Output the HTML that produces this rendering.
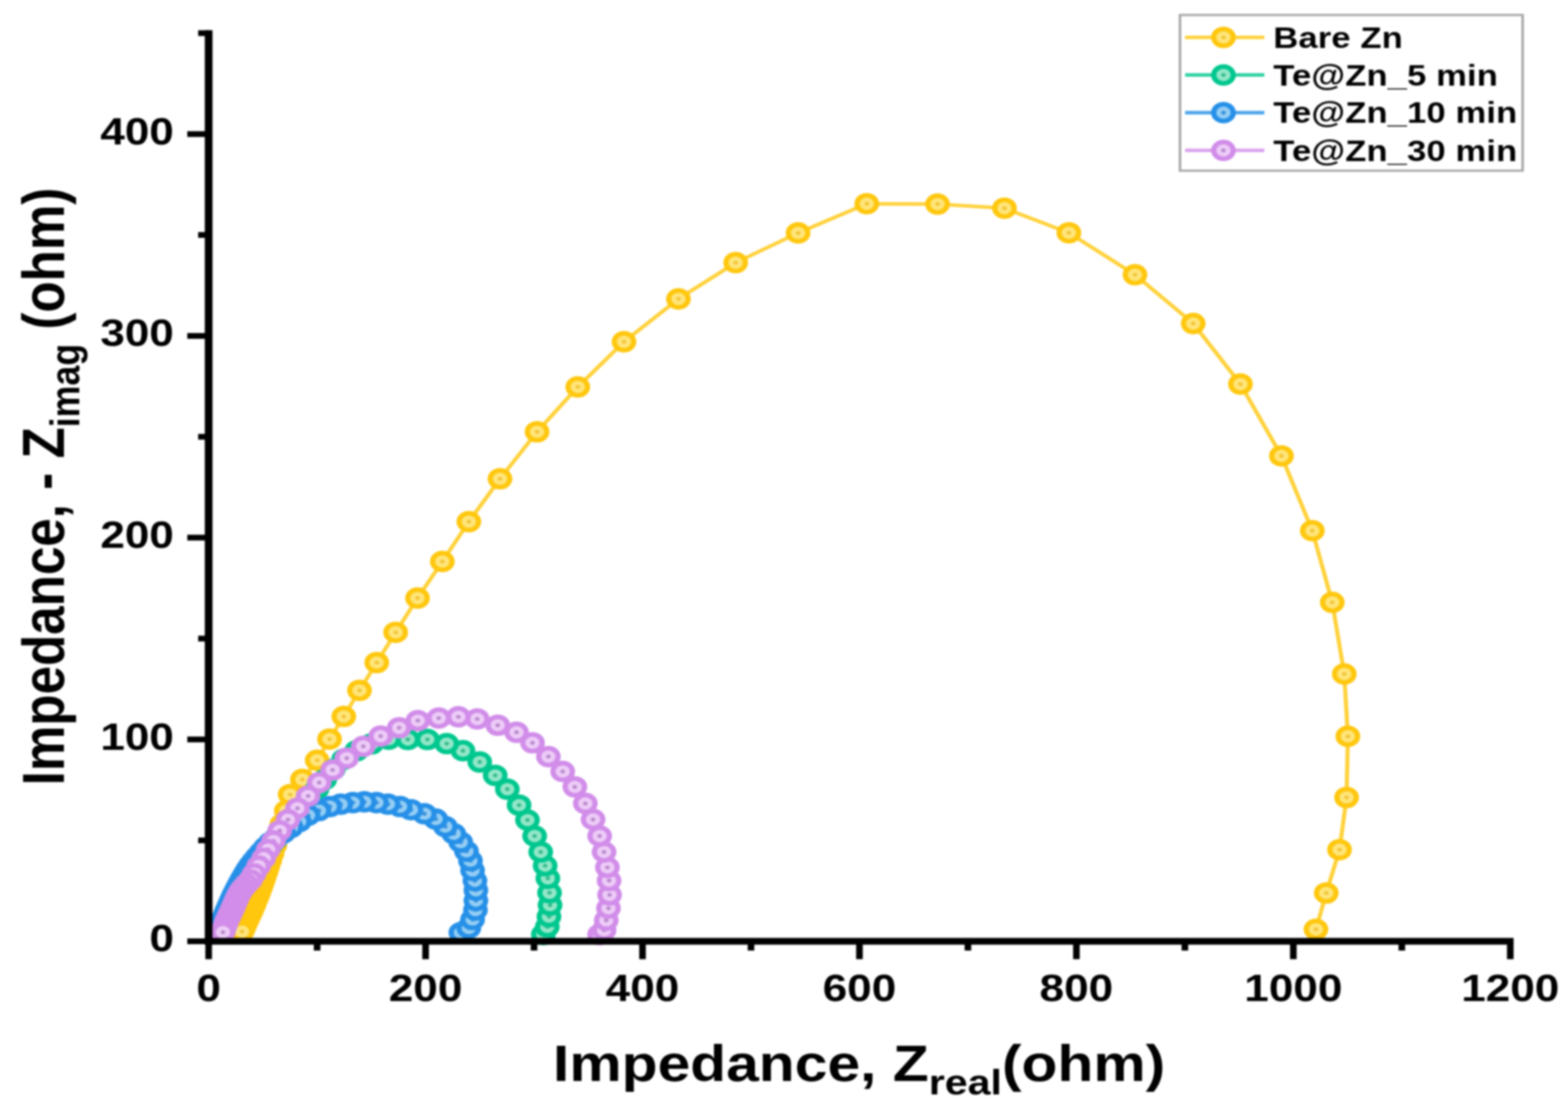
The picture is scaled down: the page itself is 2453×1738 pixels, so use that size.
<!DOCTYPE html>
<html><head><meta charset="utf-8"><title>Nyquist plot</title>
<style>html,body{margin:0;padding:0;background:#fff;overflow:hidden;width:2453px;height:1738px}</style>
</head><body>
<svg xmlns="http://www.w3.org/2000/svg" width="2453" height="1738" viewBox="0 0 2133.04 1738" preserveAspectRatio="none" style="display:block;filter:blur(1.4px)"><rect x="0" y="0" width="2133.04" height="1738" fill="#fff"/>
<path d="M1790.17 1453.8 L1804.17 1397 L1822.26 1329.2 L1831.83 1247.5 L1833.57 1151.9 L1828.7 1054.4 L1812.35 942.3 L1785.22 830.2 L1743.22 713.2 L1687.48 600.9 L1623.22 506.1 L1544 429.8 L1454.09 364.2 L1366.43 325.7 L1275.39 319.3 L1179.13 318.7 L1085.65 364.4 L1000.78 410.9 L922.96 467.6 L848.87 534.6 L786 605.3 L730.61 675.5 L680.17 749 L637.83 816.1 L601.74 878.4 L568 935.6 L538.26 989.2 L512.52 1036.5 L489.04 1080 L467.65 1120.8 L448.26 1156.2 L431.48 1189.3 L411.39 1219.4 L394.7 1243 L389.49 1268.3 L383.46 1289.28 L378.24 1307.08 L373.85 1322.22 L370.13 1335.11 L366.97 1346.06 L364.26 1355.35 L361.93 1363.24 L359.94 1369.95 L358.24 1375.64 L356.77 1380.48 L355.51 1384.58 L354.42 1388.06 L353.48 1391.01 L352.56 1393.82 L351.64 1396.62 L350.7 1399.42 L349.75 1402.22 L348.8 1405.01 L347.83 1407.8 L346.86 1410.58 L345.87 1413.36 L344.88 1416.13 L343.88 1418.9 L342.86 1421.67 L341.83 1424.42 L340.78 1427.17 L339.71 1429.9 L338.63 1432.63 L337.54 1435.36 L336.46 1438.09 L335.38 1440.82 L334.32 1443.56 L333.29 1446.32 L332.26 1449.07 L331.24 1451.84 L330.23 1454.6 L329.22 1457.37" fill="none" stroke="#FFD139" stroke-width="5.6" stroke-linejoin="round"/>
<circle cx="1790.17" cy="1453.8" r="13.2" fill="#FFE57A" stroke="#FFC70E" stroke-width="7.2"/><circle cx="1790.17" cy="1453.8" r="3.0" fill="#F2C43A"/><circle cx="1804.17" cy="1397" r="13.2" fill="#FFE57A" stroke="#FFC70E" stroke-width="7.2"/><circle cx="1804.17" cy="1397" r="3.0" fill="#F2C43A"/><circle cx="1822.26" cy="1329.2" r="13.2" fill="#FFE57A" stroke="#FFC70E" stroke-width="7.2"/><circle cx="1822.26" cy="1329.2" r="3.0" fill="#F2C43A"/><circle cx="1831.83" cy="1247.5" r="13.2" fill="#FFE57A" stroke="#FFC70E" stroke-width="7.2"/><circle cx="1831.83" cy="1247.5" r="3.0" fill="#F2C43A"/><circle cx="1833.57" cy="1151.9" r="13.2" fill="#FFE57A" stroke="#FFC70E" stroke-width="7.2"/><circle cx="1833.57" cy="1151.9" r="3.0" fill="#F2C43A"/><circle cx="1828.7" cy="1054.4" r="13.2" fill="#FFE57A" stroke="#FFC70E" stroke-width="7.2"/><circle cx="1828.7" cy="1054.4" r="3.0" fill="#F2C43A"/><circle cx="1812.35" cy="942.3" r="13.2" fill="#FFE57A" stroke="#FFC70E" stroke-width="7.2"/><circle cx="1812.35" cy="942.3" r="3.0" fill="#F2C43A"/><circle cx="1785.22" cy="830.2" r="13.2" fill="#FFE57A" stroke="#FFC70E" stroke-width="7.2"/><circle cx="1785.22" cy="830.2" r="3.0" fill="#F2C43A"/><circle cx="1743.22" cy="713.2" r="13.2" fill="#FFE57A" stroke="#FFC70E" stroke-width="7.2"/><circle cx="1743.22" cy="713.2" r="3.0" fill="#F2C43A"/><circle cx="1687.48" cy="600.9" r="13.2" fill="#FFE57A" stroke="#FFC70E" stroke-width="7.2"/><circle cx="1687.48" cy="600.9" r="3.0" fill="#F2C43A"/><circle cx="1623.22" cy="506.1" r="13.2" fill="#FFE57A" stroke="#FFC70E" stroke-width="7.2"/><circle cx="1623.22" cy="506.1" r="3.0" fill="#F2C43A"/><circle cx="1544" cy="429.8" r="13.2" fill="#FFE57A" stroke="#FFC70E" stroke-width="7.2"/><circle cx="1544" cy="429.8" r="3.0" fill="#F2C43A"/><circle cx="1454.09" cy="364.2" r="13.2" fill="#FFE57A" stroke="#FFC70E" stroke-width="7.2"/><circle cx="1454.09" cy="364.2" r="3.0" fill="#F2C43A"/><circle cx="1366.43" cy="325.7" r="13.2" fill="#FFE57A" stroke="#FFC70E" stroke-width="7.2"/><circle cx="1366.43" cy="325.7" r="3.0" fill="#F2C43A"/><circle cx="1275.39" cy="319.3" r="13.2" fill="#FFE57A" stroke="#FFC70E" stroke-width="7.2"/><circle cx="1275.39" cy="319.3" r="3.0" fill="#F2C43A"/><circle cx="1179.13" cy="318.7" r="13.2" fill="#FFE57A" stroke="#FFC70E" stroke-width="7.2"/><circle cx="1179.13" cy="318.7" r="3.0" fill="#F2C43A"/><circle cx="1085.65" cy="364.4" r="13.2" fill="#FFE57A" stroke="#FFC70E" stroke-width="7.2"/><circle cx="1085.65" cy="364.4" r="3.0" fill="#F2C43A"/><circle cx="1000.78" cy="410.9" r="13.2" fill="#FFE57A" stroke="#FFC70E" stroke-width="7.2"/><circle cx="1000.78" cy="410.9" r="3.0" fill="#F2C43A"/><circle cx="922.96" cy="467.6" r="13.2" fill="#FFE57A" stroke="#FFC70E" stroke-width="7.2"/><circle cx="922.96" cy="467.6" r="3.0" fill="#F2C43A"/><circle cx="848.87" cy="534.6" r="13.2" fill="#FFE57A" stroke="#FFC70E" stroke-width="7.2"/><circle cx="848.87" cy="534.6" r="3.0" fill="#F2C43A"/><circle cx="786" cy="605.3" r="13.2" fill="#FFE57A" stroke="#FFC70E" stroke-width="7.2"/><circle cx="786" cy="605.3" r="3.0" fill="#F2C43A"/><circle cx="730.61" cy="675.5" r="13.2" fill="#FFE57A" stroke="#FFC70E" stroke-width="7.2"/><circle cx="730.61" cy="675.5" r="3.0" fill="#F2C43A"/><circle cx="680.17" cy="749" r="13.2" fill="#FFE57A" stroke="#FFC70E" stroke-width="7.2"/><circle cx="680.17" cy="749" r="3.0" fill="#F2C43A"/><circle cx="637.83" cy="816.1" r="13.2" fill="#FFE57A" stroke="#FFC70E" stroke-width="7.2"/><circle cx="637.83" cy="816.1" r="3.0" fill="#F2C43A"/><circle cx="601.74" cy="878.4" r="13.2" fill="#FFE57A" stroke="#FFC70E" stroke-width="7.2"/><circle cx="601.74" cy="878.4" r="3.0" fill="#F2C43A"/><circle cx="568" cy="935.6" r="13.2" fill="#FFE57A" stroke="#FFC70E" stroke-width="7.2"/><circle cx="568" cy="935.6" r="3.0" fill="#F2C43A"/><circle cx="538.26" cy="989.2" r="13.2" fill="#FFE57A" stroke="#FFC70E" stroke-width="7.2"/><circle cx="538.26" cy="989.2" r="3.0" fill="#F2C43A"/><circle cx="512.52" cy="1036.5" r="13.2" fill="#FFE57A" stroke="#FFC70E" stroke-width="7.2"/><circle cx="512.52" cy="1036.5" r="3.0" fill="#F2C43A"/><circle cx="489.04" cy="1080" r="13.2" fill="#FFE57A" stroke="#FFC70E" stroke-width="7.2"/><circle cx="489.04" cy="1080" r="3.0" fill="#F2C43A"/><circle cx="467.65" cy="1120.8" r="13.2" fill="#FFE57A" stroke="#FFC70E" stroke-width="7.2"/><circle cx="467.65" cy="1120.8" r="3.0" fill="#F2C43A"/><circle cx="448.26" cy="1156.2" r="13.2" fill="#FFE57A" stroke="#FFC70E" stroke-width="7.2"/><circle cx="448.26" cy="1156.2" r="3.0" fill="#F2C43A"/><circle cx="431.48" cy="1189.3" r="13.2" fill="#FFE57A" stroke="#FFC70E" stroke-width="7.2"/><circle cx="431.48" cy="1189.3" r="3.0" fill="#F2C43A"/><circle cx="411.39" cy="1219.4" r="13.2" fill="#FFE57A" stroke="#FFC70E" stroke-width="7.2"/><circle cx="411.39" cy="1219.4" r="3.0" fill="#F2C43A"/><circle cx="394.7" cy="1243" r="13.2" fill="#FFE57A" stroke="#FFC70E" stroke-width="7.2"/><circle cx="394.7" cy="1243" r="3.0" fill="#F2C43A"/><circle cx="389.49" cy="1268.3" r="13.2" fill="#FFE57A" stroke="#FFC70E" stroke-width="7.2"/><circle cx="389.49" cy="1268.3" r="3.0" fill="#F2C43A"/><circle cx="383.46" cy="1289.28" r="13.2" fill="#FFE57A" stroke="#FFC70E" stroke-width="7.2"/><circle cx="383.46" cy="1289.28" r="3.0" fill="#F2C43A"/><circle cx="378.24" cy="1307.08" r="13.2" fill="#FFE57A" stroke="#FFC70E" stroke-width="7.2"/><circle cx="378.24" cy="1307.08" r="3.0" fill="#F2C43A"/><circle cx="373.85" cy="1322.22" r="13.2" fill="#FFE57A" stroke="#FFC70E" stroke-width="7.2"/><circle cx="373.85" cy="1322.22" r="3.0" fill="#F2C43A"/><circle cx="370.13" cy="1335.11" r="13.2" fill="#FFE57A" stroke="#FFC70E" stroke-width="7.2"/><circle cx="370.13" cy="1335.11" r="3.0" fill="#F2C43A"/><circle cx="366.97" cy="1346.06" r="13.2" fill="#FFE57A" stroke="#FFC70E" stroke-width="7.2"/><circle cx="366.97" cy="1346.06" r="3.0" fill="#F2C43A"/><circle cx="364.26" cy="1355.35" r="13.2" fill="#FFE57A" stroke="#FFC70E" stroke-width="7.2"/><circle cx="364.26" cy="1355.35" r="3.0" fill="#F2C43A"/><circle cx="361.93" cy="1363.24" r="13.2" fill="#FFE57A" stroke="#FFC70E" stroke-width="7.2"/><circle cx="361.93" cy="1363.24" r="3.0" fill="#F2C43A"/><circle cx="359.94" cy="1369.95" r="13.2" fill="#FFE57A" stroke="#FFC70E" stroke-width="7.2"/><circle cx="359.94" cy="1369.95" r="3.0" fill="#F2C43A"/><circle cx="358.24" cy="1375.64" r="13.2" fill="#FFE57A" stroke="#FFC70E" stroke-width="7.2"/><circle cx="358.24" cy="1375.64" r="3.0" fill="#F2C43A"/><circle cx="356.77" cy="1380.48" r="13.2" fill="#FFE57A" stroke="#FFC70E" stroke-width="7.2"/><circle cx="356.77" cy="1380.48" r="3.0" fill="#F2C43A"/><circle cx="355.51" cy="1384.58" r="13.2" fill="#FFE57A" stroke="#FFC70E" stroke-width="7.2"/><circle cx="355.51" cy="1384.58" r="3.0" fill="#F2C43A"/><circle cx="354.42" cy="1388.06" r="13.2" fill="#FFE57A" stroke="#FFC70E" stroke-width="7.2"/><circle cx="354.42" cy="1388.06" r="3.0" fill="#F2C43A"/><circle cx="353.48" cy="1391.01" r="13.2" fill="#FFE57A" stroke="#FFC70E" stroke-width="7.2"/><circle cx="353.48" cy="1391.01" r="3.0" fill="#F2C43A"/><circle cx="352.56" cy="1393.82" r="13.2" fill="#FFE57A" stroke="#FFC70E" stroke-width="7.2"/><circle cx="352.56" cy="1393.82" r="3.0" fill="#F2C43A"/><circle cx="351.64" cy="1396.62" r="13.2" fill="#FFE57A" stroke="#FFC70E" stroke-width="7.2"/><circle cx="351.64" cy="1396.62" r="3.0" fill="#F2C43A"/><circle cx="350.7" cy="1399.42" r="13.2" fill="#FFE57A" stroke="#FFC70E" stroke-width="7.2"/><circle cx="350.7" cy="1399.42" r="3.0" fill="#F2C43A"/><circle cx="349.75" cy="1402.22" r="13.2" fill="#FFE57A" stroke="#FFC70E" stroke-width="7.2"/><circle cx="349.75" cy="1402.22" r="3.0" fill="#F2C43A"/><circle cx="348.8" cy="1405.01" r="13.2" fill="#FFE57A" stroke="#FFC70E" stroke-width="7.2"/><circle cx="348.8" cy="1405.01" r="3.0" fill="#F2C43A"/><circle cx="347.83" cy="1407.8" r="13.2" fill="#FFE57A" stroke="#FFC70E" stroke-width="7.2"/><circle cx="347.83" cy="1407.8" r="3.0" fill="#F2C43A"/><circle cx="346.86" cy="1410.58" r="13.2" fill="#FFE57A" stroke="#FFC70E" stroke-width="7.2"/><circle cx="346.86" cy="1410.58" r="3.0" fill="#F2C43A"/><circle cx="345.87" cy="1413.36" r="13.2" fill="#FFE57A" stroke="#FFC70E" stroke-width="7.2"/><circle cx="345.87" cy="1413.36" r="3.0" fill="#F2C43A"/><circle cx="344.88" cy="1416.13" r="13.2" fill="#FFE57A" stroke="#FFC70E" stroke-width="7.2"/><circle cx="344.88" cy="1416.13" r="3.0" fill="#F2C43A"/><circle cx="343.88" cy="1418.9" r="13.2" fill="#FFE57A" stroke="#FFC70E" stroke-width="7.2"/><circle cx="343.88" cy="1418.9" r="3.0" fill="#F2C43A"/><circle cx="342.86" cy="1421.67" r="13.2" fill="#FFE57A" stroke="#FFC70E" stroke-width="7.2"/><circle cx="342.86" cy="1421.67" r="3.0" fill="#F2C43A"/><circle cx="341.83" cy="1424.42" r="13.2" fill="#FFE57A" stroke="#FFC70E" stroke-width="7.2"/><circle cx="341.83" cy="1424.42" r="3.0" fill="#F2C43A"/><circle cx="340.78" cy="1427.17" r="13.2" fill="#FFE57A" stroke="#FFC70E" stroke-width="7.2"/><circle cx="340.78" cy="1427.17" r="3.0" fill="#F2C43A"/><circle cx="339.71" cy="1429.9" r="13.2" fill="#FFE57A" stroke="#FFC70E" stroke-width="7.2"/><circle cx="339.71" cy="1429.9" r="3.0" fill="#F2C43A"/><circle cx="338.63" cy="1432.63" r="13.2" fill="#FFE57A" stroke="#FFC70E" stroke-width="7.2"/><circle cx="338.63" cy="1432.63" r="3.0" fill="#F2C43A"/><circle cx="337.54" cy="1435.36" r="13.2" fill="#FFE57A" stroke="#FFC70E" stroke-width="7.2"/><circle cx="337.54" cy="1435.36" r="3.0" fill="#F2C43A"/><circle cx="336.46" cy="1438.09" r="13.2" fill="#FFE57A" stroke="#FFC70E" stroke-width="7.2"/><circle cx="336.46" cy="1438.09" r="3.0" fill="#F2C43A"/><circle cx="335.38" cy="1440.82" r="13.2" fill="#FFE57A" stroke="#FFC70E" stroke-width="7.2"/><circle cx="335.38" cy="1440.82" r="3.0" fill="#F2C43A"/><circle cx="334.32" cy="1443.56" r="13.2" fill="#FFE57A" stroke="#FFC70E" stroke-width="7.2"/><circle cx="334.32" cy="1443.56" r="3.0" fill="#F2C43A"/><circle cx="333.29" cy="1446.32" r="13.2" fill="#FFE57A" stroke="#FFC70E" stroke-width="7.2"/><circle cx="333.29" cy="1446.32" r="3.0" fill="#F2C43A"/><circle cx="332.26" cy="1449.07" r="13.2" fill="#FFE57A" stroke="#FFC70E" stroke-width="7.2"/><circle cx="332.26" cy="1449.07" r="3.0" fill="#F2C43A"/><circle cx="331.24" cy="1451.84" r="13.2" fill="#FFE57A" stroke="#FFC70E" stroke-width="7.2"/><circle cx="331.24" cy="1451.84" r="3.0" fill="#F2C43A"/><circle cx="330.23" cy="1454.6" r="13.2" fill="#FFE57A" stroke="#FFC70E" stroke-width="7.2"/><circle cx="330.23" cy="1454.6" r="3.0" fill="#F2C43A"/><circle cx="329.22" cy="1457.37" r="13.2" fill="#FFE57A" stroke="#FFC70E" stroke-width="7.2"/><circle cx="329.22" cy="1457.37" r="3.0" fill="#F2C43A"/>
<path d="M739.13 1462 L744.52 1450 L746.78 1434 L748.26 1416 L747.57 1396.6 L745.3 1374.1 L741.57 1354.3 L735.57 1332.8 L727.3 1307.8 L717.57 1282.8 L706.09 1259.5 L690.17 1234.6 L673.65 1213 L652.61 1192.1 L629.83 1174.4 L607.65 1163.3 L581.48 1156.8 L554.78 1156.8 L528.75 1156.35 L505.42 1163.76 L484.96 1174.66 L467.45 1187.9 L453.55 1203.61 L441.77 1219.48 L431.21 1234.62 L421.43 1248.74 L412.11 1261.66 L403.51 1273.74 L395.81 1285.24 L388.47 1295.78 L381.44 1305.39 L374.41 1313.83 L368.21 1322 L363.24 1330.33 L358.73 1338.16 L354.46 1345.39 L350.58 1352.18 L347.15 1358.62 L344.12 1364.72 L341.22 1370.34 L338.26 1375.38 L335.17 1379.77 L332.16 1383.73 L329.44 1387.49 L327.11 1391.16 L325.19 1394.76 L323.57 1398.22 L322.15 1401.5 L320.89 1404.57 L319.74 1407.45 L318.68 1410.18 L317.61 1412.92 L316.54 1415.66 L315.45 1418.38 L314.32 1421.09 L313.18 1423.78 L312.02 1426.47 L310.85 1429.16 L309.69 1431.84 L308.54 1434.53 L307.41 1437.24 L306.33 1439.97 L305.31 1442.73 L304.39 1445.54 L303.58 1448.39 L302.84 1451.27 L302.17 1454.16 L301.53 1457.07 L300.88 1459.98" fill="none" stroke="#2ED1A2" stroke-width="5.6" stroke-linejoin="round"/>
<circle cx="739.13" cy="1462" r="13.2" fill="#92E7C8" stroke="#00C78E" stroke-width="7.2"/><circle cx="739.13" cy="1462" r="3.0" fill="#3BB98E"/><circle cx="744.52" cy="1450" r="13.2" fill="#92E7C8" stroke="#00C78E" stroke-width="7.2"/><circle cx="744.52" cy="1450" r="3.0" fill="#3BB98E"/><circle cx="746.78" cy="1434" r="13.2" fill="#92E7C8" stroke="#00C78E" stroke-width="7.2"/><circle cx="746.78" cy="1434" r="3.0" fill="#3BB98E"/><circle cx="748.26" cy="1416" r="13.2" fill="#92E7C8" stroke="#00C78E" stroke-width="7.2"/><circle cx="748.26" cy="1416" r="3.0" fill="#3BB98E"/><circle cx="747.57" cy="1396.6" r="13.2" fill="#92E7C8" stroke="#00C78E" stroke-width="7.2"/><circle cx="747.57" cy="1396.6" r="3.0" fill="#3BB98E"/><circle cx="745.3" cy="1374.1" r="13.2" fill="#92E7C8" stroke="#00C78E" stroke-width="7.2"/><circle cx="745.3" cy="1374.1" r="3.0" fill="#3BB98E"/><circle cx="741.57" cy="1354.3" r="13.2" fill="#92E7C8" stroke="#00C78E" stroke-width="7.2"/><circle cx="741.57" cy="1354.3" r="3.0" fill="#3BB98E"/><circle cx="735.57" cy="1332.8" r="13.2" fill="#92E7C8" stroke="#00C78E" stroke-width="7.2"/><circle cx="735.57" cy="1332.8" r="3.0" fill="#3BB98E"/><circle cx="727.3" cy="1307.8" r="13.2" fill="#92E7C8" stroke="#00C78E" stroke-width="7.2"/><circle cx="727.3" cy="1307.8" r="3.0" fill="#3BB98E"/><circle cx="717.57" cy="1282.8" r="13.2" fill="#92E7C8" stroke="#00C78E" stroke-width="7.2"/><circle cx="717.57" cy="1282.8" r="3.0" fill="#3BB98E"/><circle cx="706.09" cy="1259.5" r="13.2" fill="#92E7C8" stroke="#00C78E" stroke-width="7.2"/><circle cx="706.09" cy="1259.5" r="3.0" fill="#3BB98E"/><circle cx="690.17" cy="1234.6" r="13.2" fill="#92E7C8" stroke="#00C78E" stroke-width="7.2"/><circle cx="690.17" cy="1234.6" r="3.0" fill="#3BB98E"/><circle cx="673.65" cy="1213" r="13.2" fill="#92E7C8" stroke="#00C78E" stroke-width="7.2"/><circle cx="673.65" cy="1213" r="3.0" fill="#3BB98E"/><circle cx="652.61" cy="1192.1" r="13.2" fill="#92E7C8" stroke="#00C78E" stroke-width="7.2"/><circle cx="652.61" cy="1192.1" r="3.0" fill="#3BB98E"/><circle cx="629.83" cy="1174.4" r="13.2" fill="#92E7C8" stroke="#00C78E" stroke-width="7.2"/><circle cx="629.83" cy="1174.4" r="3.0" fill="#3BB98E"/><circle cx="607.65" cy="1163.3" r="13.2" fill="#92E7C8" stroke="#00C78E" stroke-width="7.2"/><circle cx="607.65" cy="1163.3" r="3.0" fill="#3BB98E"/><circle cx="581.48" cy="1156.8" r="13.2" fill="#92E7C8" stroke="#00C78E" stroke-width="7.2"/><circle cx="581.48" cy="1156.8" r="3.0" fill="#3BB98E"/><circle cx="554.78" cy="1156.8" r="13.2" fill="#92E7C8" stroke="#00C78E" stroke-width="7.2"/><circle cx="554.78" cy="1156.8" r="3.0" fill="#3BB98E"/><circle cx="528.75" cy="1156.35" r="13.2" fill="#92E7C8" stroke="#00C78E" stroke-width="7.2"/><circle cx="528.75" cy="1156.35" r="3.0" fill="#3BB98E"/><circle cx="505.42" cy="1163.76" r="13.2" fill="#92E7C8" stroke="#00C78E" stroke-width="7.2"/><circle cx="505.42" cy="1163.76" r="3.0" fill="#3BB98E"/><circle cx="484.96" cy="1174.66" r="13.2" fill="#92E7C8" stroke="#00C78E" stroke-width="7.2"/><circle cx="484.96" cy="1174.66" r="3.0" fill="#3BB98E"/><circle cx="467.45" cy="1187.9" r="13.2" fill="#92E7C8" stroke="#00C78E" stroke-width="7.2"/><circle cx="467.45" cy="1187.9" r="3.0" fill="#3BB98E"/><circle cx="453.55" cy="1203.61" r="13.2" fill="#92E7C8" stroke="#00C78E" stroke-width="7.2"/><circle cx="453.55" cy="1203.61" r="3.0" fill="#3BB98E"/><circle cx="441.77" cy="1219.48" r="13.2" fill="#92E7C8" stroke="#00C78E" stroke-width="7.2"/><circle cx="441.77" cy="1219.48" r="3.0" fill="#3BB98E"/><circle cx="431.21" cy="1234.62" r="13.2" fill="#92E7C8" stroke="#00C78E" stroke-width="7.2"/><circle cx="431.21" cy="1234.62" r="3.0" fill="#3BB98E"/><circle cx="421.43" cy="1248.74" r="13.2" fill="#92E7C8" stroke="#00C78E" stroke-width="7.2"/><circle cx="421.43" cy="1248.74" r="3.0" fill="#3BB98E"/><circle cx="412.11" cy="1261.66" r="13.2" fill="#92E7C8" stroke="#00C78E" stroke-width="7.2"/><circle cx="412.11" cy="1261.66" r="3.0" fill="#3BB98E"/><circle cx="403.51" cy="1273.74" r="13.2" fill="#92E7C8" stroke="#00C78E" stroke-width="7.2"/><circle cx="403.51" cy="1273.74" r="3.0" fill="#3BB98E"/><circle cx="395.81" cy="1285.24" r="13.2" fill="#92E7C8" stroke="#00C78E" stroke-width="7.2"/><circle cx="395.81" cy="1285.24" r="3.0" fill="#3BB98E"/><circle cx="388.47" cy="1295.78" r="13.2" fill="#92E7C8" stroke="#00C78E" stroke-width="7.2"/><circle cx="388.47" cy="1295.78" r="3.0" fill="#3BB98E"/><circle cx="381.44" cy="1305.39" r="13.2" fill="#92E7C8" stroke="#00C78E" stroke-width="7.2"/><circle cx="381.44" cy="1305.39" r="3.0" fill="#3BB98E"/><circle cx="374.41" cy="1313.83" r="13.2" fill="#92E7C8" stroke="#00C78E" stroke-width="7.2"/><circle cx="374.41" cy="1313.83" r="3.0" fill="#3BB98E"/><circle cx="368.21" cy="1322" r="13.2" fill="#92E7C8" stroke="#00C78E" stroke-width="7.2"/><circle cx="368.21" cy="1322" r="3.0" fill="#3BB98E"/><circle cx="363.24" cy="1330.33" r="13.2" fill="#92E7C8" stroke="#00C78E" stroke-width="7.2"/><circle cx="363.24" cy="1330.33" r="3.0" fill="#3BB98E"/><circle cx="358.73" cy="1338.16" r="13.2" fill="#92E7C8" stroke="#00C78E" stroke-width="7.2"/><circle cx="358.73" cy="1338.16" r="3.0" fill="#3BB98E"/><circle cx="354.46" cy="1345.39" r="13.2" fill="#92E7C8" stroke="#00C78E" stroke-width="7.2"/><circle cx="354.46" cy="1345.39" r="3.0" fill="#3BB98E"/><circle cx="350.58" cy="1352.18" r="13.2" fill="#92E7C8" stroke="#00C78E" stroke-width="7.2"/><circle cx="350.58" cy="1352.18" r="3.0" fill="#3BB98E"/><circle cx="347.15" cy="1358.62" r="13.2" fill="#92E7C8" stroke="#00C78E" stroke-width="7.2"/><circle cx="347.15" cy="1358.62" r="3.0" fill="#3BB98E"/><circle cx="344.12" cy="1364.72" r="13.2" fill="#92E7C8" stroke="#00C78E" stroke-width="7.2"/><circle cx="344.12" cy="1364.72" r="3.0" fill="#3BB98E"/><circle cx="341.22" cy="1370.34" r="13.2" fill="#92E7C8" stroke="#00C78E" stroke-width="7.2"/><circle cx="341.22" cy="1370.34" r="3.0" fill="#3BB98E"/><circle cx="338.26" cy="1375.38" r="13.2" fill="#92E7C8" stroke="#00C78E" stroke-width="7.2"/><circle cx="338.26" cy="1375.38" r="3.0" fill="#3BB98E"/><circle cx="335.17" cy="1379.77" r="13.2" fill="#92E7C8" stroke="#00C78E" stroke-width="7.2"/><circle cx="335.17" cy="1379.77" r="3.0" fill="#3BB98E"/><circle cx="332.16" cy="1383.73" r="13.2" fill="#92E7C8" stroke="#00C78E" stroke-width="7.2"/><circle cx="332.16" cy="1383.73" r="3.0" fill="#3BB98E"/><circle cx="329.44" cy="1387.49" r="13.2" fill="#92E7C8" stroke="#00C78E" stroke-width="7.2"/><circle cx="329.44" cy="1387.49" r="3.0" fill="#3BB98E"/><circle cx="327.11" cy="1391.16" r="13.2" fill="#92E7C8" stroke="#00C78E" stroke-width="7.2"/><circle cx="327.11" cy="1391.16" r="3.0" fill="#3BB98E"/><circle cx="325.19" cy="1394.76" r="13.2" fill="#92E7C8" stroke="#00C78E" stroke-width="7.2"/><circle cx="325.19" cy="1394.76" r="3.0" fill="#3BB98E"/><circle cx="323.57" cy="1398.22" r="13.2" fill="#92E7C8" stroke="#00C78E" stroke-width="7.2"/><circle cx="323.57" cy="1398.22" r="3.0" fill="#3BB98E"/><circle cx="322.15" cy="1401.5" r="13.2" fill="#92E7C8" stroke="#00C78E" stroke-width="7.2"/><circle cx="322.15" cy="1401.5" r="3.0" fill="#3BB98E"/><circle cx="320.89" cy="1404.57" r="13.2" fill="#92E7C8" stroke="#00C78E" stroke-width="7.2"/><circle cx="320.89" cy="1404.57" r="3.0" fill="#3BB98E"/><circle cx="319.74" cy="1407.45" r="13.2" fill="#92E7C8" stroke="#00C78E" stroke-width="7.2"/><circle cx="319.74" cy="1407.45" r="3.0" fill="#3BB98E"/><circle cx="318.68" cy="1410.18" r="13.2" fill="#92E7C8" stroke="#00C78E" stroke-width="7.2"/><circle cx="318.68" cy="1410.18" r="3.0" fill="#3BB98E"/><circle cx="317.61" cy="1412.92" r="13.2" fill="#92E7C8" stroke="#00C78E" stroke-width="7.2"/><circle cx="317.61" cy="1412.92" r="3.0" fill="#3BB98E"/><circle cx="316.54" cy="1415.66" r="13.2" fill="#92E7C8" stroke="#00C78E" stroke-width="7.2"/><circle cx="316.54" cy="1415.66" r="3.0" fill="#3BB98E"/><circle cx="315.45" cy="1418.38" r="13.2" fill="#92E7C8" stroke="#00C78E" stroke-width="7.2"/><circle cx="315.45" cy="1418.38" r="3.0" fill="#3BB98E"/><circle cx="314.32" cy="1421.09" r="13.2" fill="#92E7C8" stroke="#00C78E" stroke-width="7.2"/><circle cx="314.32" cy="1421.09" r="3.0" fill="#3BB98E"/><circle cx="313.18" cy="1423.78" r="13.2" fill="#92E7C8" stroke="#00C78E" stroke-width="7.2"/><circle cx="313.18" cy="1423.78" r="3.0" fill="#3BB98E"/><circle cx="312.02" cy="1426.47" r="13.2" fill="#92E7C8" stroke="#00C78E" stroke-width="7.2"/><circle cx="312.02" cy="1426.47" r="3.0" fill="#3BB98E"/><circle cx="310.85" cy="1429.16" r="13.2" fill="#92E7C8" stroke="#00C78E" stroke-width="7.2"/><circle cx="310.85" cy="1429.16" r="3.0" fill="#3BB98E"/><circle cx="309.69" cy="1431.84" r="13.2" fill="#92E7C8" stroke="#00C78E" stroke-width="7.2"/><circle cx="309.69" cy="1431.84" r="3.0" fill="#3BB98E"/><circle cx="308.54" cy="1434.53" r="13.2" fill="#92E7C8" stroke="#00C78E" stroke-width="7.2"/><circle cx="308.54" cy="1434.53" r="3.0" fill="#3BB98E"/><circle cx="307.41" cy="1437.24" r="13.2" fill="#92E7C8" stroke="#00C78E" stroke-width="7.2"/><circle cx="307.41" cy="1437.24" r="3.0" fill="#3BB98E"/><circle cx="306.33" cy="1439.97" r="13.2" fill="#92E7C8" stroke="#00C78E" stroke-width="7.2"/><circle cx="306.33" cy="1439.97" r="3.0" fill="#3BB98E"/><circle cx="305.31" cy="1442.73" r="13.2" fill="#92E7C8" stroke="#00C78E" stroke-width="7.2"/><circle cx="305.31" cy="1442.73" r="3.0" fill="#3BB98E"/><circle cx="304.39" cy="1445.54" r="13.2" fill="#92E7C8" stroke="#00C78E" stroke-width="7.2"/><circle cx="304.39" cy="1445.54" r="3.0" fill="#3BB98E"/><circle cx="303.58" cy="1448.39" r="13.2" fill="#92E7C8" stroke="#00C78E" stroke-width="7.2"/><circle cx="303.58" cy="1448.39" r="3.0" fill="#3BB98E"/><circle cx="302.84" cy="1451.27" r="13.2" fill="#92E7C8" stroke="#00C78E" stroke-width="7.2"/><circle cx="302.84" cy="1451.27" r="3.0" fill="#3BB98E"/><circle cx="302.17" cy="1454.16" r="13.2" fill="#92E7C8" stroke="#00C78E" stroke-width="7.2"/><circle cx="302.17" cy="1454.16" r="3.0" fill="#3BB98E"/><circle cx="301.53" cy="1457.07" r="13.2" fill="#92E7C8" stroke="#00C78E" stroke-width="7.2"/><circle cx="301.53" cy="1457.07" r="3.0" fill="#3BB98E"/><circle cx="300.88" cy="1459.98" r="13.2" fill="#92E7C8" stroke="#00C78E" stroke-width="7.2"/><circle cx="300.88" cy="1459.98" r="3.0" fill="#3BB98E"/>
<path d="M626.96 1459 L637.74 1451.7 L642.87 1438.4 L646.78 1423.6 L647.39 1408.8 L647.39 1392.6 L646.09 1377.8 L642.87 1361.6 L640 1346.5 L634.61 1331.7 L626.78 1317.5 L617.39 1304.3 L605.74 1293 L592.78 1281.3 L577.39 1273 L559.13 1266.7 L544.35 1261.8 L527.83 1258 L512.17 1255.6 L495.65 1254.4 L480 1255.6 L463.48 1258 L448.7 1261.8 L433.91 1268 L419.13 1275.4 L407.12 1285.31 L396 1294.31 L385.75 1302.56 L376.32 1310.16 L368.01 1317.7 L361.14 1325.63 L355.24 1333.39 L349.87 1340.59 L345.05 1347.32 L340.83 1353.72 L337.23 1359.83 L334.14 1365.62 L331.42 1371.04 L329 1376.07 L326.82 1380.73 L324.85 1385.03 L323.06 1389.01 L321.42 1392.67 L319.96 1396.07 L318.63 1399.2 L317.44 1402.1 L316.33 1404.82 L315.25 1407.55 L314.17 1410.28 L313.11 1413.02 L312.05 1415.76 L311 1418.51 L309.96 1421.26 L308.94 1424.02 L307.95 1426.8 L306.97 1429.58 L306.01 1432.37 L305.06 1435.16 L304.11 1437.96 L303.18 1440.76 L302.23 1443.55 L301.28 1446.35 L300.33 1449.14 L299.39 1451.94 L298.47 1454.74 L297.54 1457.55" fill="none" stroke="#4DA4EC" stroke-width="5.6" stroke-linejoin="round"/>
<circle cx="626.96" cy="1459" r="13.2" fill="#93CDF4" stroke="#2690E8" stroke-width="7.2"/><circle cx="626.96" cy="1459" r="3.0" fill="#3A8ED8"/><circle cx="637.74" cy="1451.7" r="13.2" fill="#93CDF4" stroke="#2690E8" stroke-width="7.2"/><circle cx="637.74" cy="1451.7" r="3.0" fill="#3A8ED8"/><circle cx="642.87" cy="1438.4" r="13.2" fill="#93CDF4" stroke="#2690E8" stroke-width="7.2"/><circle cx="642.87" cy="1438.4" r="3.0" fill="#3A8ED8"/><circle cx="646.78" cy="1423.6" r="13.2" fill="#93CDF4" stroke="#2690E8" stroke-width="7.2"/><circle cx="646.78" cy="1423.6" r="3.0" fill="#3A8ED8"/><circle cx="647.39" cy="1408.8" r="13.2" fill="#93CDF4" stroke="#2690E8" stroke-width="7.2"/><circle cx="647.39" cy="1408.8" r="3.0" fill="#3A8ED8"/><circle cx="647.39" cy="1392.6" r="13.2" fill="#93CDF4" stroke="#2690E8" stroke-width="7.2"/><circle cx="647.39" cy="1392.6" r="3.0" fill="#3A8ED8"/><circle cx="646.09" cy="1377.8" r="13.2" fill="#93CDF4" stroke="#2690E8" stroke-width="7.2"/><circle cx="646.09" cy="1377.8" r="3.0" fill="#3A8ED8"/><circle cx="642.87" cy="1361.6" r="13.2" fill="#93CDF4" stroke="#2690E8" stroke-width="7.2"/><circle cx="642.87" cy="1361.6" r="3.0" fill="#3A8ED8"/><circle cx="640" cy="1346.5" r="13.2" fill="#93CDF4" stroke="#2690E8" stroke-width="7.2"/><circle cx="640" cy="1346.5" r="3.0" fill="#3A8ED8"/><circle cx="634.61" cy="1331.7" r="13.2" fill="#93CDF4" stroke="#2690E8" stroke-width="7.2"/><circle cx="634.61" cy="1331.7" r="3.0" fill="#3A8ED8"/><circle cx="626.78" cy="1317.5" r="13.2" fill="#93CDF4" stroke="#2690E8" stroke-width="7.2"/><circle cx="626.78" cy="1317.5" r="3.0" fill="#3A8ED8"/><circle cx="617.39" cy="1304.3" r="13.2" fill="#93CDF4" stroke="#2690E8" stroke-width="7.2"/><circle cx="617.39" cy="1304.3" r="3.0" fill="#3A8ED8"/><circle cx="605.74" cy="1293" r="13.2" fill="#93CDF4" stroke="#2690E8" stroke-width="7.2"/><circle cx="605.74" cy="1293" r="3.0" fill="#3A8ED8"/><circle cx="592.78" cy="1281.3" r="13.2" fill="#93CDF4" stroke="#2690E8" stroke-width="7.2"/><circle cx="592.78" cy="1281.3" r="3.0" fill="#3A8ED8"/><circle cx="577.39" cy="1273" r="13.2" fill="#93CDF4" stroke="#2690E8" stroke-width="7.2"/><circle cx="577.39" cy="1273" r="3.0" fill="#3A8ED8"/><circle cx="559.13" cy="1266.7" r="13.2" fill="#93CDF4" stroke="#2690E8" stroke-width="7.2"/><circle cx="559.13" cy="1266.7" r="3.0" fill="#3A8ED8"/><circle cx="544.35" cy="1261.8" r="13.2" fill="#93CDF4" stroke="#2690E8" stroke-width="7.2"/><circle cx="544.35" cy="1261.8" r="3.0" fill="#3A8ED8"/><circle cx="527.83" cy="1258" r="13.2" fill="#93CDF4" stroke="#2690E8" stroke-width="7.2"/><circle cx="527.83" cy="1258" r="3.0" fill="#3A8ED8"/><circle cx="512.17" cy="1255.6" r="13.2" fill="#93CDF4" stroke="#2690E8" stroke-width="7.2"/><circle cx="512.17" cy="1255.6" r="3.0" fill="#3A8ED8"/><circle cx="495.65" cy="1254.4" r="13.2" fill="#93CDF4" stroke="#2690E8" stroke-width="7.2"/><circle cx="495.65" cy="1254.4" r="3.0" fill="#3A8ED8"/><circle cx="480" cy="1255.6" r="13.2" fill="#93CDF4" stroke="#2690E8" stroke-width="7.2"/><circle cx="480" cy="1255.6" r="3.0" fill="#3A8ED8"/><circle cx="463.48" cy="1258" r="13.2" fill="#93CDF4" stroke="#2690E8" stroke-width="7.2"/><circle cx="463.48" cy="1258" r="3.0" fill="#3A8ED8"/><circle cx="448.7" cy="1261.8" r="13.2" fill="#93CDF4" stroke="#2690E8" stroke-width="7.2"/><circle cx="448.7" cy="1261.8" r="3.0" fill="#3A8ED8"/><circle cx="433.91" cy="1268" r="13.2" fill="#93CDF4" stroke="#2690E8" stroke-width="7.2"/><circle cx="433.91" cy="1268" r="3.0" fill="#3A8ED8"/><circle cx="419.13" cy="1275.4" r="13.2" fill="#93CDF4" stroke="#2690E8" stroke-width="7.2"/><circle cx="419.13" cy="1275.4" r="3.0" fill="#3A8ED8"/><circle cx="407.12" cy="1285.31" r="13.2" fill="#93CDF4" stroke="#2690E8" stroke-width="7.2"/><circle cx="407.12" cy="1285.31" r="3.0" fill="#3A8ED8"/><circle cx="396" cy="1294.31" r="13.2" fill="#93CDF4" stroke="#2690E8" stroke-width="7.2"/><circle cx="396" cy="1294.31" r="3.0" fill="#3A8ED8"/><circle cx="385.75" cy="1302.56" r="13.2" fill="#93CDF4" stroke="#2690E8" stroke-width="7.2"/><circle cx="385.75" cy="1302.56" r="3.0" fill="#3A8ED8"/><circle cx="376.32" cy="1310.16" r="13.2" fill="#93CDF4" stroke="#2690E8" stroke-width="7.2"/><circle cx="376.32" cy="1310.16" r="3.0" fill="#3A8ED8"/><circle cx="368.01" cy="1317.7" r="13.2" fill="#93CDF4" stroke="#2690E8" stroke-width="7.2"/><circle cx="368.01" cy="1317.7" r="3.0" fill="#3A8ED8"/><circle cx="361.14" cy="1325.63" r="13.2" fill="#93CDF4" stroke="#2690E8" stroke-width="7.2"/><circle cx="361.14" cy="1325.63" r="3.0" fill="#3A8ED8"/><circle cx="355.24" cy="1333.39" r="13.2" fill="#93CDF4" stroke="#2690E8" stroke-width="7.2"/><circle cx="355.24" cy="1333.39" r="3.0" fill="#3A8ED8"/><circle cx="349.87" cy="1340.59" r="13.2" fill="#93CDF4" stroke="#2690E8" stroke-width="7.2"/><circle cx="349.87" cy="1340.59" r="3.0" fill="#3A8ED8"/><circle cx="345.05" cy="1347.32" r="13.2" fill="#93CDF4" stroke="#2690E8" stroke-width="7.2"/><circle cx="345.05" cy="1347.32" r="3.0" fill="#3A8ED8"/><circle cx="340.83" cy="1353.72" r="13.2" fill="#93CDF4" stroke="#2690E8" stroke-width="7.2"/><circle cx="340.83" cy="1353.72" r="3.0" fill="#3A8ED8"/><circle cx="337.23" cy="1359.83" r="13.2" fill="#93CDF4" stroke="#2690E8" stroke-width="7.2"/><circle cx="337.23" cy="1359.83" r="3.0" fill="#3A8ED8"/><circle cx="334.14" cy="1365.62" r="13.2" fill="#93CDF4" stroke="#2690E8" stroke-width="7.2"/><circle cx="334.14" cy="1365.62" r="3.0" fill="#3A8ED8"/><circle cx="331.42" cy="1371.04" r="13.2" fill="#93CDF4" stroke="#2690E8" stroke-width="7.2"/><circle cx="331.42" cy="1371.04" r="3.0" fill="#3A8ED8"/><circle cx="329" cy="1376.07" r="13.2" fill="#93CDF4" stroke="#2690E8" stroke-width="7.2"/><circle cx="329" cy="1376.07" r="3.0" fill="#3A8ED8"/><circle cx="326.82" cy="1380.73" r="13.2" fill="#93CDF4" stroke="#2690E8" stroke-width="7.2"/><circle cx="326.82" cy="1380.73" r="3.0" fill="#3A8ED8"/><circle cx="324.85" cy="1385.03" r="13.2" fill="#93CDF4" stroke="#2690E8" stroke-width="7.2"/><circle cx="324.85" cy="1385.03" r="3.0" fill="#3A8ED8"/><circle cx="323.06" cy="1389.01" r="13.2" fill="#93CDF4" stroke="#2690E8" stroke-width="7.2"/><circle cx="323.06" cy="1389.01" r="3.0" fill="#3A8ED8"/><circle cx="321.42" cy="1392.67" r="13.2" fill="#93CDF4" stroke="#2690E8" stroke-width="7.2"/><circle cx="321.42" cy="1392.67" r="3.0" fill="#3A8ED8"/><circle cx="319.96" cy="1396.07" r="13.2" fill="#93CDF4" stroke="#2690E8" stroke-width="7.2"/><circle cx="319.96" cy="1396.07" r="3.0" fill="#3A8ED8"/><circle cx="318.63" cy="1399.2" r="13.2" fill="#93CDF4" stroke="#2690E8" stroke-width="7.2"/><circle cx="318.63" cy="1399.2" r="3.0" fill="#3A8ED8"/><circle cx="317.44" cy="1402.1" r="13.2" fill="#93CDF4" stroke="#2690E8" stroke-width="7.2"/><circle cx="317.44" cy="1402.1" r="3.0" fill="#3A8ED8"/><circle cx="316.33" cy="1404.82" r="13.2" fill="#93CDF4" stroke="#2690E8" stroke-width="7.2"/><circle cx="316.33" cy="1404.82" r="3.0" fill="#3A8ED8"/><circle cx="315.25" cy="1407.55" r="13.2" fill="#93CDF4" stroke="#2690E8" stroke-width="7.2"/><circle cx="315.25" cy="1407.55" r="3.0" fill="#3A8ED8"/><circle cx="314.17" cy="1410.28" r="13.2" fill="#93CDF4" stroke="#2690E8" stroke-width="7.2"/><circle cx="314.17" cy="1410.28" r="3.0" fill="#3A8ED8"/><circle cx="313.11" cy="1413.02" r="13.2" fill="#93CDF4" stroke="#2690E8" stroke-width="7.2"/><circle cx="313.11" cy="1413.02" r="3.0" fill="#3A8ED8"/><circle cx="312.05" cy="1415.76" r="13.2" fill="#93CDF4" stroke="#2690E8" stroke-width="7.2"/><circle cx="312.05" cy="1415.76" r="3.0" fill="#3A8ED8"/><circle cx="311" cy="1418.51" r="13.2" fill="#93CDF4" stroke="#2690E8" stroke-width="7.2"/><circle cx="311" cy="1418.51" r="3.0" fill="#3A8ED8"/><circle cx="309.96" cy="1421.26" r="13.2" fill="#93CDF4" stroke="#2690E8" stroke-width="7.2"/><circle cx="309.96" cy="1421.26" r="3.0" fill="#3A8ED8"/><circle cx="308.94" cy="1424.02" r="13.2" fill="#93CDF4" stroke="#2690E8" stroke-width="7.2"/><circle cx="308.94" cy="1424.02" r="3.0" fill="#3A8ED8"/><circle cx="307.95" cy="1426.8" r="13.2" fill="#93CDF4" stroke="#2690E8" stroke-width="7.2"/><circle cx="307.95" cy="1426.8" r="3.0" fill="#3A8ED8"/><circle cx="306.97" cy="1429.58" r="13.2" fill="#93CDF4" stroke="#2690E8" stroke-width="7.2"/><circle cx="306.97" cy="1429.58" r="3.0" fill="#3A8ED8"/><circle cx="306.01" cy="1432.37" r="13.2" fill="#93CDF4" stroke="#2690E8" stroke-width="7.2"/><circle cx="306.01" cy="1432.37" r="3.0" fill="#3A8ED8"/><circle cx="305.06" cy="1435.16" r="13.2" fill="#93CDF4" stroke="#2690E8" stroke-width="7.2"/><circle cx="305.06" cy="1435.16" r="3.0" fill="#3A8ED8"/><circle cx="304.11" cy="1437.96" r="13.2" fill="#93CDF4" stroke="#2690E8" stroke-width="7.2"/><circle cx="304.11" cy="1437.96" r="3.0" fill="#3A8ED8"/><circle cx="303.18" cy="1440.76" r="13.2" fill="#93CDF4" stroke="#2690E8" stroke-width="7.2"/><circle cx="303.18" cy="1440.76" r="3.0" fill="#3A8ED8"/><circle cx="302.23" cy="1443.55" r="13.2" fill="#93CDF4" stroke="#2690E8" stroke-width="7.2"/><circle cx="302.23" cy="1443.55" r="3.0" fill="#3A8ED8"/><circle cx="301.28" cy="1446.35" r="13.2" fill="#93CDF4" stroke="#2690E8" stroke-width="7.2"/><circle cx="301.28" cy="1446.35" r="3.0" fill="#3A8ED8"/><circle cx="300.33" cy="1449.14" r="13.2" fill="#93CDF4" stroke="#2690E8" stroke-width="7.2"/><circle cx="300.33" cy="1449.14" r="3.0" fill="#3A8ED8"/><circle cx="299.39" cy="1451.94" r="13.2" fill="#93CDF4" stroke="#2690E8" stroke-width="7.2"/><circle cx="299.39" cy="1451.94" r="3.0" fill="#3A8ED8"/><circle cx="298.47" cy="1454.74" r="13.2" fill="#93CDF4" stroke="#2690E8" stroke-width="7.2"/><circle cx="298.47" cy="1454.74" r="3.0" fill="#3A8ED8"/><circle cx="297.54" cy="1457.55" r="13.2" fill="#93CDF4" stroke="#2690E8" stroke-width="7.2"/><circle cx="297.54" cy="1457.55" r="3.0" fill="#3A8ED8"/>
<path d="M815.65 1462 L821.74 1455.2 L824.7 1439.7 L827.74 1420.7 L829.22 1400 L828.52 1377.6 L826.26 1356.9 L821.74 1332.8 L815.74 1307.8 L806.78 1281.9 L796.26 1256.9 L782 1231 L765.48 1206.9 L746 1183.6 L724.35 1162 L702.7 1145.6 L677.13 1134.5 L649.22 1124.7 L623.57 1121.4 L596.87 1123.4 L568.43 1127.3 L542.96 1138.6 L517.83 1151.6 L494.26 1167.6 L471.74 1186 L452.52 1204.5 L434.26 1224.2 L419.04 1245.3 L404.61 1264.4 L391.74 1282.3 L380.52 1299.5 L372.17 1315.5 L364.78 1329.1 L358.7 1342.7 L351.74 1354.9 L345.65 1367.1 L340.7 1376.5 L335.35 1383.07 L330.79 1389.01 L327.18 1394.6 L324.56 1399.94 L322.57 1404.83 L320.95 1409.19 L319.55 1413.05 L318.32 1416.45 L317.19 1419.41 L316.1 1422.14 L314.99 1424.85 L313.88 1427.57 L312.77 1430.28 L311.66 1433 L310.57 1435.72 L309.5 1438.46 L308.47 1441.21 L307.49 1443.99 L306.58 1446.8 L305.72 1449.64 L304.91 1452.49 L304.13 1455.35 L303.36 1458.22" fill="none" stroke="#D9A2ED" stroke-width="5.6" stroke-linejoin="round"/>
<circle cx="815.65" cy="1462" r="13.2" fill="#EDCBF7" stroke="#D18DE9" stroke-width="7.2"/><circle cx="815.65" cy="1462" r="3.0" fill="#B88ACB"/><circle cx="821.74" cy="1455.2" r="13.2" fill="#EDCBF7" stroke="#D18DE9" stroke-width="7.2"/><circle cx="821.74" cy="1455.2" r="3.0" fill="#B88ACB"/><circle cx="824.7" cy="1439.7" r="13.2" fill="#EDCBF7" stroke="#D18DE9" stroke-width="7.2"/><circle cx="824.7" cy="1439.7" r="3.0" fill="#B88ACB"/><circle cx="827.74" cy="1420.7" r="13.2" fill="#EDCBF7" stroke="#D18DE9" stroke-width="7.2"/><circle cx="827.74" cy="1420.7" r="3.0" fill="#B88ACB"/><circle cx="829.22" cy="1400" r="13.2" fill="#EDCBF7" stroke="#D18DE9" stroke-width="7.2"/><circle cx="829.22" cy="1400" r="3.0" fill="#B88ACB"/><circle cx="828.52" cy="1377.6" r="13.2" fill="#EDCBF7" stroke="#D18DE9" stroke-width="7.2"/><circle cx="828.52" cy="1377.6" r="3.0" fill="#B88ACB"/><circle cx="826.26" cy="1356.9" r="13.2" fill="#EDCBF7" stroke="#D18DE9" stroke-width="7.2"/><circle cx="826.26" cy="1356.9" r="3.0" fill="#B88ACB"/><circle cx="821.74" cy="1332.8" r="13.2" fill="#EDCBF7" stroke="#D18DE9" stroke-width="7.2"/><circle cx="821.74" cy="1332.8" r="3.0" fill="#B88ACB"/><circle cx="815.74" cy="1307.8" r="13.2" fill="#EDCBF7" stroke="#D18DE9" stroke-width="7.2"/><circle cx="815.74" cy="1307.8" r="3.0" fill="#B88ACB"/><circle cx="806.78" cy="1281.9" r="13.2" fill="#EDCBF7" stroke="#D18DE9" stroke-width="7.2"/><circle cx="806.78" cy="1281.9" r="3.0" fill="#B88ACB"/><circle cx="796.26" cy="1256.9" r="13.2" fill="#EDCBF7" stroke="#D18DE9" stroke-width="7.2"/><circle cx="796.26" cy="1256.9" r="3.0" fill="#B88ACB"/><circle cx="782" cy="1231" r="13.2" fill="#EDCBF7" stroke="#D18DE9" stroke-width="7.2"/><circle cx="782" cy="1231" r="3.0" fill="#B88ACB"/><circle cx="765.48" cy="1206.9" r="13.2" fill="#EDCBF7" stroke="#D18DE9" stroke-width="7.2"/><circle cx="765.48" cy="1206.9" r="3.0" fill="#B88ACB"/><circle cx="746" cy="1183.6" r="13.2" fill="#EDCBF7" stroke="#D18DE9" stroke-width="7.2"/><circle cx="746" cy="1183.6" r="3.0" fill="#B88ACB"/><circle cx="724.35" cy="1162" r="13.2" fill="#EDCBF7" stroke="#D18DE9" stroke-width="7.2"/><circle cx="724.35" cy="1162" r="3.0" fill="#B88ACB"/><circle cx="702.7" cy="1145.6" r="13.2" fill="#EDCBF7" stroke="#D18DE9" stroke-width="7.2"/><circle cx="702.7" cy="1145.6" r="3.0" fill="#B88ACB"/><circle cx="677.13" cy="1134.5" r="13.2" fill="#EDCBF7" stroke="#D18DE9" stroke-width="7.2"/><circle cx="677.13" cy="1134.5" r="3.0" fill="#B88ACB"/><circle cx="649.22" cy="1124.7" r="13.2" fill="#EDCBF7" stroke="#D18DE9" stroke-width="7.2"/><circle cx="649.22" cy="1124.7" r="3.0" fill="#B88ACB"/><circle cx="623.57" cy="1121.4" r="13.2" fill="#EDCBF7" stroke="#D18DE9" stroke-width="7.2"/><circle cx="623.57" cy="1121.4" r="3.0" fill="#B88ACB"/><circle cx="596.87" cy="1123.4" r="13.2" fill="#EDCBF7" stroke="#D18DE9" stroke-width="7.2"/><circle cx="596.87" cy="1123.4" r="3.0" fill="#B88ACB"/><circle cx="568.43" cy="1127.3" r="13.2" fill="#EDCBF7" stroke="#D18DE9" stroke-width="7.2"/><circle cx="568.43" cy="1127.3" r="3.0" fill="#B88ACB"/><circle cx="542.96" cy="1138.6" r="13.2" fill="#EDCBF7" stroke="#D18DE9" stroke-width="7.2"/><circle cx="542.96" cy="1138.6" r="3.0" fill="#B88ACB"/><circle cx="517.83" cy="1151.6" r="13.2" fill="#EDCBF7" stroke="#D18DE9" stroke-width="7.2"/><circle cx="517.83" cy="1151.6" r="3.0" fill="#B88ACB"/><circle cx="494.26" cy="1167.6" r="13.2" fill="#EDCBF7" stroke="#D18DE9" stroke-width="7.2"/><circle cx="494.26" cy="1167.6" r="3.0" fill="#B88ACB"/><circle cx="471.74" cy="1186" r="13.2" fill="#EDCBF7" stroke="#D18DE9" stroke-width="7.2"/><circle cx="471.74" cy="1186" r="3.0" fill="#B88ACB"/><circle cx="452.52" cy="1204.5" r="13.2" fill="#EDCBF7" stroke="#D18DE9" stroke-width="7.2"/><circle cx="452.52" cy="1204.5" r="3.0" fill="#B88ACB"/><circle cx="434.26" cy="1224.2" r="13.2" fill="#EDCBF7" stroke="#D18DE9" stroke-width="7.2"/><circle cx="434.26" cy="1224.2" r="3.0" fill="#B88ACB"/><circle cx="419.04" cy="1245.3" r="13.2" fill="#EDCBF7" stroke="#D18DE9" stroke-width="7.2"/><circle cx="419.04" cy="1245.3" r="3.0" fill="#B88ACB"/><circle cx="404.61" cy="1264.4" r="13.2" fill="#EDCBF7" stroke="#D18DE9" stroke-width="7.2"/><circle cx="404.61" cy="1264.4" r="3.0" fill="#B88ACB"/><circle cx="391.74" cy="1282.3" r="13.2" fill="#EDCBF7" stroke="#D18DE9" stroke-width="7.2"/><circle cx="391.74" cy="1282.3" r="3.0" fill="#B88ACB"/><circle cx="380.52" cy="1299.5" r="13.2" fill="#EDCBF7" stroke="#D18DE9" stroke-width="7.2"/><circle cx="380.52" cy="1299.5" r="3.0" fill="#B88ACB"/><circle cx="372.17" cy="1315.5" r="13.2" fill="#EDCBF7" stroke="#D18DE9" stroke-width="7.2"/><circle cx="372.17" cy="1315.5" r="3.0" fill="#B88ACB"/><circle cx="364.78" cy="1329.1" r="13.2" fill="#EDCBF7" stroke="#D18DE9" stroke-width="7.2"/><circle cx="364.78" cy="1329.1" r="3.0" fill="#B88ACB"/><circle cx="358.7" cy="1342.7" r="13.2" fill="#EDCBF7" stroke="#D18DE9" stroke-width="7.2"/><circle cx="358.7" cy="1342.7" r="3.0" fill="#B88ACB"/><circle cx="351.74" cy="1354.9" r="13.2" fill="#EDCBF7" stroke="#D18DE9" stroke-width="7.2"/><circle cx="351.74" cy="1354.9" r="3.0" fill="#B88ACB"/><circle cx="345.65" cy="1367.1" r="13.2" fill="#EDCBF7" stroke="#D18DE9" stroke-width="7.2"/><circle cx="345.65" cy="1367.1" r="3.0" fill="#B88ACB"/><circle cx="340.7" cy="1376.5" r="13.2" fill="#EDCBF7" stroke="#D18DE9" stroke-width="7.2"/><circle cx="340.7" cy="1376.5" r="3.0" fill="#B88ACB"/><circle cx="335.35" cy="1383.07" r="13.2" fill="#EDCBF7" stroke="#D18DE9" stroke-width="7.2"/><circle cx="335.35" cy="1383.07" r="3.0" fill="#B88ACB"/><circle cx="330.79" cy="1389.01" r="13.2" fill="#EDCBF7" stroke="#D18DE9" stroke-width="7.2"/><circle cx="330.79" cy="1389.01" r="3.0" fill="#B88ACB"/><circle cx="327.18" cy="1394.6" r="13.2" fill="#EDCBF7" stroke="#D18DE9" stroke-width="7.2"/><circle cx="327.18" cy="1394.6" r="3.0" fill="#B88ACB"/><circle cx="324.56" cy="1399.94" r="13.2" fill="#EDCBF7" stroke="#D18DE9" stroke-width="7.2"/><circle cx="324.56" cy="1399.94" r="3.0" fill="#B88ACB"/><circle cx="322.57" cy="1404.83" r="13.2" fill="#EDCBF7" stroke="#D18DE9" stroke-width="7.2"/><circle cx="322.57" cy="1404.83" r="3.0" fill="#B88ACB"/><circle cx="320.95" cy="1409.19" r="13.2" fill="#EDCBF7" stroke="#D18DE9" stroke-width="7.2"/><circle cx="320.95" cy="1409.19" r="3.0" fill="#B88ACB"/><circle cx="319.55" cy="1413.05" r="13.2" fill="#EDCBF7" stroke="#D18DE9" stroke-width="7.2"/><circle cx="319.55" cy="1413.05" r="3.0" fill="#B88ACB"/><circle cx="318.32" cy="1416.45" r="13.2" fill="#EDCBF7" stroke="#D18DE9" stroke-width="7.2"/><circle cx="318.32" cy="1416.45" r="3.0" fill="#B88ACB"/><circle cx="317.19" cy="1419.41" r="13.2" fill="#EDCBF7" stroke="#D18DE9" stroke-width="7.2"/><circle cx="317.19" cy="1419.41" r="3.0" fill="#B88ACB"/><circle cx="316.1" cy="1422.14" r="13.2" fill="#EDCBF7" stroke="#D18DE9" stroke-width="7.2"/><circle cx="316.1" cy="1422.14" r="3.0" fill="#B88ACB"/><circle cx="314.99" cy="1424.85" r="13.2" fill="#EDCBF7" stroke="#D18DE9" stroke-width="7.2"/><circle cx="314.99" cy="1424.85" r="3.0" fill="#B88ACB"/><circle cx="313.88" cy="1427.57" r="13.2" fill="#EDCBF7" stroke="#D18DE9" stroke-width="7.2"/><circle cx="313.88" cy="1427.57" r="3.0" fill="#B88ACB"/><circle cx="312.77" cy="1430.28" r="13.2" fill="#EDCBF7" stroke="#D18DE9" stroke-width="7.2"/><circle cx="312.77" cy="1430.28" r="3.0" fill="#B88ACB"/><circle cx="311.66" cy="1433" r="13.2" fill="#EDCBF7" stroke="#D18DE9" stroke-width="7.2"/><circle cx="311.66" cy="1433" r="3.0" fill="#B88ACB"/><circle cx="310.57" cy="1435.72" r="13.2" fill="#EDCBF7" stroke="#D18DE9" stroke-width="7.2"/><circle cx="310.57" cy="1435.72" r="3.0" fill="#B88ACB"/><circle cx="309.5" cy="1438.46" r="13.2" fill="#EDCBF7" stroke="#D18DE9" stroke-width="7.2"/><circle cx="309.5" cy="1438.46" r="3.0" fill="#B88ACB"/><circle cx="308.47" cy="1441.21" r="13.2" fill="#EDCBF7" stroke="#D18DE9" stroke-width="7.2"/><circle cx="308.47" cy="1441.21" r="3.0" fill="#B88ACB"/><circle cx="307.49" cy="1443.99" r="13.2" fill="#EDCBF7" stroke="#D18DE9" stroke-width="7.2"/><circle cx="307.49" cy="1443.99" r="3.0" fill="#B88ACB"/><circle cx="306.58" cy="1446.8" r="13.2" fill="#EDCBF7" stroke="#D18DE9" stroke-width="7.2"/><circle cx="306.58" cy="1446.8" r="3.0" fill="#B88ACB"/><circle cx="305.72" cy="1449.64" r="13.2" fill="#EDCBF7" stroke="#D18DE9" stroke-width="7.2"/><circle cx="305.72" cy="1449.64" r="3.0" fill="#B88ACB"/><circle cx="304.91" cy="1452.49" r="13.2" fill="#EDCBF7" stroke="#D18DE9" stroke-width="7.2"/><circle cx="304.91" cy="1452.49" r="3.0" fill="#B88ACB"/><circle cx="304.13" cy="1455.35" r="13.2" fill="#EDCBF7" stroke="#D18DE9" stroke-width="7.2"/><circle cx="304.13" cy="1455.35" r="3.0" fill="#B88ACB"/><circle cx="303.36" cy="1458.22" r="13.2" fill="#EDCBF7" stroke="#D18DE9" stroke-width="7.2"/><circle cx="303.36" cy="1458.22" r="3.0" fill="#B88ACB"/>
<path d="M283.83 47.35 V1477.75" stroke="#000" stroke-width="10.5" fill="none" stroke-linecap="butt"/>
<path d="M278.58 1472.5 H2059.02" stroke="#000" stroke-width="10.5" fill="none" stroke-linecap="butt"/>
<path d="M283.83 1472.5 V1500.5" stroke="#000" stroke-width="9.0"/>
<path d="M431.38 1472.5 V1487" stroke="#000" stroke-width="9.0"/>
<path d="M578.94 1472.5 V1500.5" stroke="#000" stroke-width="9.0"/>
<path d="M726.5 1472.5 V1487" stroke="#000" stroke-width="9.0"/>
<path d="M874.06 1472.5 V1500.5" stroke="#000" stroke-width="9.0"/>
<path d="M1021.62 1472.5 V1487" stroke="#000" stroke-width="9.0"/>
<path d="M1169.17 1472.5 V1500.5" stroke="#000" stroke-width="9.0"/>
<path d="M1316.73 1472.5 V1487" stroke="#000" stroke-width="9.0"/>
<path d="M1464.29 1472.5 V1500.5" stroke="#000" stroke-width="9.0"/>
<path d="M1611.85 1472.5 V1487" stroke="#000" stroke-width="9.0"/>
<path d="M1759.41 1472.5 V1500.5" stroke="#000" stroke-width="9.0"/>
<path d="M1906.96 1472.5 V1487" stroke="#000" stroke-width="9.0"/>
<path d="M2054.52 1472.5 V1500.5" stroke="#000" stroke-width="9.0"/>
<path d="M254.78 1472.5 H283.83" stroke="#000" stroke-width="9.0"/>
<path d="M269.57 1314.65 H283.83" stroke="#000" stroke-width="9.0"/>
<path d="M254.78 1156.8 H283.83" stroke="#000" stroke-width="9.0"/>
<path d="M269.57 998.95 H283.83" stroke="#000" stroke-width="9.0"/>
<path d="M254.78 841.1 H283.83" stroke="#000" stroke-width="9.0"/>
<path d="M269.57 683.25 H283.83" stroke="#000" stroke-width="9.0"/>
<path d="M254.78 525.4 H283.83" stroke="#000" stroke-width="9.0"/>
<path d="M269.57 367.55 H283.83" stroke="#000" stroke-width="9.0"/>
<path d="M254.78 209.7 H283.83" stroke="#000" stroke-width="9.0"/>
<path d="M269.57 51.85 H283.83" stroke="#000" stroke-width="9.0"/>
<g font-family="'Liberation Sans', Arial, sans-serif" font-weight="bold" font-size="60" fill="#000"><text x="236.52" y="1488.5" text-anchor="end">0</text><text x="236.52" y="1172.8" text-anchor="end">100</text><text x="236.52" y="857.1" text-anchor="end">200</text><text x="236.52" y="541.4" text-anchor="end">300</text><text x="236.52" y="225.7" text-anchor="end">400</text><text x="283.83" y="1566" text-anchor="middle">0</text><text x="578.94" y="1566" text-anchor="middle">200</text><text x="874.06" y="1566" text-anchor="middle">400</text><text x="1169.17" y="1566" text-anchor="middle">600</text><text x="1464.29" y="1566" text-anchor="middle">800</text><text x="1759.41" y="1566" text-anchor="middle">1000</text><text x="2054.52" y="1566" text-anchor="middle">1200</text></g>
<text font-family="'Liberation Sans', Arial, sans-serif" font-weight="bold" font-size="80" fill="#000" x="1168.7" y="1691" text-anchor="middle">Impedance, Z<tspan font-size="56" dy="21">real</tspan><tspan dy="-21">(ohm)</tspan></text>
<text font-family="'Liberation Sans', Arial, sans-serif" font-weight="bold" font-size="80" fill="#000" transform="translate(86.96 761) rotate(-90)" text-anchor="middle">Impedance, - Z<tspan font-size="56" dy="21">imag</tspan><tspan dy="-21"> (ohm)</tspan></text>
<rect x="1605.22" y="23.5" width="466.09" height="243.5" fill="#fff" stroke="#A8A8A8" stroke-width="3.5"/>
<path d="M1612.17 58.5 H1720" stroke="#FFD139" stroke-width="5.6"/>
<circle cx="1664.35" cy="58.5" r="13.2" fill="#FFE57A" stroke="#FFC70E" stroke-width="7.2"/><circle cx="1664.35" cy="58.5" r="3.0" fill="#F2C43A"/>
<text x="1732.17" y="74.8" font-family="'Liberation Sans', Arial, sans-serif" font-weight="bold" font-size="47" letter-spacing="0.2" fill="#000">Bare Zn</text>
<path d="M1612.17 117.3 H1720" stroke="#2ED1A2" stroke-width="5.6"/>
<circle cx="1664.35" cy="117.3" r="13.2" fill="#92E7C8" stroke="#00C78E" stroke-width="7.2"/><circle cx="1664.35" cy="117.3" r="3.0" fill="#3BB98E"/>
<text x="1732.17" y="133.6" font-family="'Liberation Sans', Arial, sans-serif" font-weight="bold" font-size="47" letter-spacing="0.2" fill="#000">Te@Zn_5 min</text>
<path d="M1612.17 176.2 H1720" stroke="#4DA4EC" stroke-width="5.6"/>
<circle cx="1664.35" cy="176.2" r="13.2" fill="#93CDF4" stroke="#2690E8" stroke-width="7.2"/><circle cx="1664.35" cy="176.2" r="3.0" fill="#3A8ED8"/>
<text x="1732.17" y="192.5" font-family="'Liberation Sans', Arial, sans-serif" font-weight="bold" font-size="47" letter-spacing="0.2" fill="#000">Te@Zn_10 min</text>
<path d="M1612.17 235.3 H1720" stroke="#D9A2ED" stroke-width="5.6"/>
<circle cx="1664.35" cy="235.3" r="13.2" fill="#EDCBF7" stroke="#D18DE9" stroke-width="7.2"/><circle cx="1664.35" cy="235.3" r="3.0" fill="#B88ACB"/>
<text x="1732.17" y="251.6" font-family="'Liberation Sans', Arial, sans-serif" font-weight="bold" font-size="47" letter-spacing="0.2" fill="#000">Te@Zn_30 min</text></svg>
</body></html>
